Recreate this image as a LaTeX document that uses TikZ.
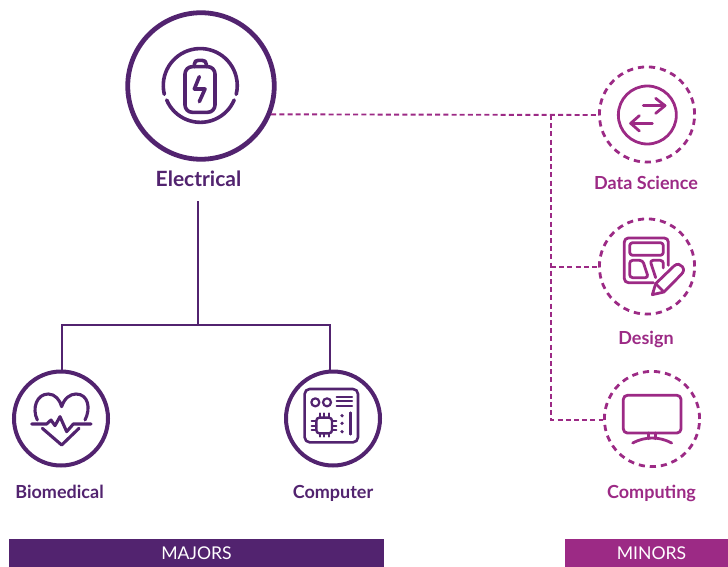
\documentclass[tikz,border=0pt]{standalone}
\usepackage{fontspec}
\setmainfont{Open Sans}
\newfontfamily\barfont{Lato}
\newfontfamily\labfont{Lato}
\definecolor{maj}{HTML}{52236F}
\definecolor{mnr}{HTML}{9C2A85}
\tikzset{
  x=1pt,y=-1pt,
  ring/.style={circle,draw=#1,inner sep=0pt},
  major/.style={ring=maj,line width=4pt,minimum size=94pt},
  minor/.style={ring=mnr,line width=2.8pt,minimum size=95.2pt,dash pattern=on 6.2pt off 4.9pt},
  majlab/.style={text=maj,anchor=base,font=\labfont\bfseries\fontsize{18}{18}\selectfont,inner sep=0pt},
  minlab/.style={text=mnr,anchor=base,font=\labfont\bfseries\fontsize{18}{18}\selectfont,inner sep=0pt},
  bar/.style={text=white,font=\barfont\fontsize{17.6}{18}\selectfont,inner sep=0pt,minimum height=28pt},
  majline/.style={draw=maj,line width=1.9pt},
  minline/.style={draw=mnr,line width=1.9pt,dash pattern=on 5pt off 3.2pt},
  icomaj/.style={draw=maj,line width=3.1pt,line cap=round,line join=round},
  icomin/.style={draw=mnr,line width=2.8pt,line cap=round,line join=round}
}
\begin{document}
\begin{tikzpicture}
\useasboundingbox (0,0) rectangle (728,567);
% bars
\node[bar,fill=maj,minimum width=375pt] (barA) at (196.5,553) {MAJORS};
\node[bar,fill=mnr,minimum width=163pt] (barB) at (646.5,553) {\hspace{10pt}MINORS};
% rings
\node[ring=maj,line width=4.8pt,minimum size=146.5pt] (elec) at (201,86) {};
\node[major] (bio) at (61,418.5) {};
\node[major] (comp) at (333,418.5) {};
\node[minor] (dsc) at (647,114.5) {};
\node[minor] (des) at (647,266.5) {};
\node[minor] (cpg) at (652,419) {};
% labels
\node[majlab,font=\labfont\bfseries\fontsize{21}{21}\selectfont] (lelec) at (198.5,186) {Electrical};
\coordinate (estart) at (198,201);
\node[majlab] (lbio) at (59.5,498) {Biomedical};
\node[majlab] (lcomp) at (333,498) {Computer};
\node[minlab] (ldsc) at (646,189) {Data Science};
\node[minlab] (ldes) at (646,344) {Design};
\node[minlab] (lcpg) at (651.5,498) {Computing};
% solid connectors
\coordinate (top) at (198,325);
\coordinate (tl) at (62,325);
\coordinate (tr) at (330,325);
\draw[majline] (estart) -- (top);
\draw[majline] (bio.north -| tl) -- (tl) -- (tr) -- (comp.north -| tr);
% dashed connectors
\coordinate (d1) at (551,115);
\coordinate (d2) at (551,267);
\coordinate (d3) at (551,420);
\draw[minline] (elec.-22.6) -- (dsc.west |- d1);
\draw[minline] (d1) -- (d3) -- (cpg.west |- d3);
\draw[minline] (d2) -- (des.west |- d2);
% battery icon
\begin{scope}[shift={(120,5)},scale=1/3]
 \draw[icomaj,line width=3.6pt] (195,207) arc[start angle=180,end angle=270,radius=22] -- (263,185) arc[start angle=270,end angle=360,radius=22] -- (285,300) arc[start angle=0,end angle=90,radius=22] -- (217,322) arc[start angle=90,end angle=180,radius=22] -- cycle;
 \draw[icomaj,line width=3.6pt] (223,185) -- (223,178) .. controls (223,170) and (228,166) .. (235,166) -- (246,166) .. controls (254,166) and (259,170) .. (259,178) -- (259,185);
 \draw[icomaj,line width=3.6pt] (238,215) -- (223,252) -- (255,252) -- (238,290);
 \draw[icomaj,line width=3.6pt] (133,268) arc[start angle=166.3,end angle=373.7,radius=111];
 \draw[icomaj,line width=3.6pt] (140,285) arc[start angle=157,end angle=23,radius=110];
\end{scope}
% heart icon
\begin{scope}[shift={(5,365)},scale=1/3]
 \draw[icomaj] (97,165) .. controls (80,130) and (95,87) .. (130,87) .. controls (150,87) and (165,105) .. (170,125) .. controls (178,100) and (195,87) .. (213,87) .. controls (250,87) and (258,130) .. (240,165);
 \draw[icomaj] (112,190) -- (170,240) -- (222,190);
 \draw[icomaj] (80,177) -- (125,177) -- (138,165) -- (150,182) -- (165,155) -- (185,200) -- (205,177) -- (258,177);
\end{scope}
% board icon
\begin{scope}[shift={(278,365)},scale=1/3]
 \draw[icomaj,line width=2.6pt,rounded corners=5pt] (80,72) rectangle (240,232);
 \draw[icomaj,line width=2.2pt] (112,112) circle[radius=12];
 \draw[icomaj,line width=2.2pt] (147,112) circle[radius=12];
 \foreach \y in {95,108,122} \draw[icomaj,line width=2.2pt] (176,\y) -- (222,\y);
 \draw[icomaj,line width=2.4pt,rounded corners=3pt] (115,158) rectangle (162,205);
 \foreach \v in {125,138,152} {\draw[icomaj,line width=2pt] (\v,145) -- (\v,158); \draw[icomaj,line width=2pt] (\v,205) -- (\v,215);}
 \foreach \v in {168,182,195} {\draw[icomaj,line width=2pt] (101,\v) -- (115,\v); \draw[icomaj,line width=2pt] (162,\v) -- (175,\v);}
 \foreach \y in {152,175,200} \fill[maj] (192,\y) circle[radius=5.5];
 \draw[icomaj,line width=2.6pt] (217,143) -- (217,208);
\end{scope}
% data icon
\begin{scope}[shift={(590,60)},scale=1/3]
 \draw[icomin] (172,165) circle[radius=87];
 \draw[icomin] (160,137) -- (225,137);
 \draw[icomin] (197,115) -- (225,137) -- (197,160);
 \draw[icomin] (187,190) -- (122,190);
 \draw[icomin] (148,167) -- (122,190) -- (148,213);
\end{scope}
% design icon
\begin{scope}[shift={(590,212)},scale=1/3]
 \draw[icomin,rounded corners=4pt] (235,160) -- (235,78) -- (103,78) -- (103,212) -- (190,212);
 \draw[icomin,rounded corners=3pt] (119,92) rectangle (220,130);
 \draw[icomin,rounded corners=3pt] (119,145) -- (158,145) -- (175,197) -- (119,197) -- cycle;
 \draw[icomin,rounded corners=3pt] (197,197) -- (180,145) -- (220,145) -- (220,168);
 \draw[icomin] (187,248) -- (197,215) -- (252,162) .. controls (262,153) and (272,157) .. (277,164) .. controls (283,172) and (281,180) .. (274,187) -- (222,240) -- cycle;
 \draw[icomin] (197,215) -- (222,240);
\end{scope}
% monitor icon
\begin{scope}[shift={(590,365)},scale=1/3]
 \draw[icomin,rounded corners=4pt] (100,91) rectangle (273,204);
 \draw[icomin] (175,204) -- (175,221);
 \draw[icomin] (197,204) -- (197,221);
 \draw[icomin] (128,234) .. controls (165,214) and (208,214) .. (245,234);
\end{scope}
\end{tikzpicture}
\end{document}
